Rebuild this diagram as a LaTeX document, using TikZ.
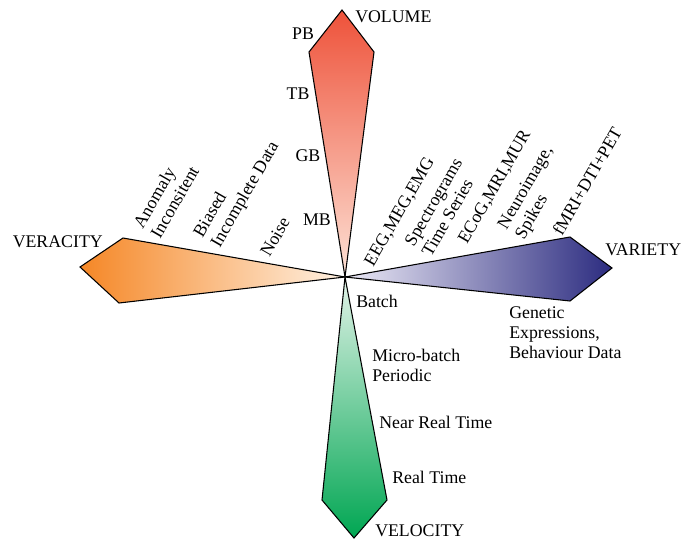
\documentclass[tikz,border=0pt]{standalone}
\usepackage{fontspec}
\setmainfont{Liberation Serif}
\begin{document}
\begin{tikzpicture}[x=0.75pt,y=-0.75pt,
  lbl/.style={inner sep=0pt,font=\fontsize{13.35}{15}\selectfont},
  rlbl/.style={lbl,rotate=60,align=left},
  blade/.style={draw=black,line width=0.8pt,line join=miter}]
\useasboundingbox (0,0) rectangle (689,539);
\definecolor{volTop}{RGB}{238,82,58}
\definecolor{volBot}{RGB}{253,226,214}
\definecolor{varIn}{RGB}{236,234,246}
\definecolor{varOut}{RGB}{44,44,128}
\definecolor{verOut}{RGB}{245,135,38}
\definecolor{verIn}{RGB}{255,242,228}
\definecolor{velIn}{RGB}{226,243,232}
\definecolor{velOut}{RGB}{0,166,82}

\coordinate (c) at (345,277);

% VOLUME blade (up)
\shade[top color=volTop,bottom color=volBot]
  (c) -- (309,52) -- (342,10) -- (374,52) -- cycle;
\draw[blade] (c) -- (309,52) -- (342,10) -- (374,52) -- cycle;

% VELOCITY blade (down)
\shade[top color=velIn,bottom color=velOut]
  (c) -- (387,500) -- (354,538) -- (322,500) -- cycle;
\draw[blade] (c) -- (387,500) -- (354,538) -- (322,500) -- cycle;

% VARIETY blade (right)
\shade[left color=varIn,right color=varOut]
  (c) -- (570,237) -- (612,268) -- (570,301) -- cycle;
\draw[blade] (c) -- (570,237) -- (612,268) -- (570,301) -- cycle;

% VERACITY blade (left)
\shade[left color=verOut,right color=verIn]
  (c) -- (123,238) -- (80,267) -- (119,303) -- cycle;
\draw[blade] (c) -- (123,238) -- (80,267) -- (119,303) -- cycle;

% axis titles
\node[lbl,anchor=west] (volume) at (355,17) {VOLUME};
\node[lbl,anchor=west] (variety) at (605,250) {VARIETY};
\node[lbl,anchor=east] (veracity) at (103,242) {VERACITY};
\node[lbl,anchor=west] (velocity) at (375,531) {VELOCITY};

% volume scale
\node[lbl] (pb) at (303,34) {PB};
\node[lbl] (tb) at (298,94) {TB};
\node[lbl] (gb) at (308,156) {GB};
\node[lbl] (mb) at (317,220) {MB};

% velocity scale
\node[lbl,anchor=west] (batch) at (356,301) {Batch};
\node[lbl,anchor=west,align=left] (micro) at (372,365) {Micro-batch\\Periodic};
\node[lbl,anchor=west] (nrt) at (379,422) {Near Real Time};
\node[lbl,anchor=west] (rt) at (392,477) {Real Time};

% variety items
\node[rlbl] (eeg) at (400,212) {EEG,MEG,EMG};
\node[rlbl] (spec) at (442,207) {Spectrograms\\Time Series};
\node[rlbl] (ecog) at (495,187) {ECoG,MRI,MUR};
\node[rlbl] (neuro) at (535,193) {Neuroimage,\\Spikes};
\node[rlbl] (fmri) at (587,181) {fMRI+DTI+PET};
\node[lbl,anchor=west,align=left] (genetic) at (509,333) {Genetic\\Expressions,\\Behaviour Data};

% veracity items
\node[rlbl] (anomaly) at (166,197) {Anomaly\\Inconsitent};
\node[rlbl] (biased) at (237,190) {Biased\\Incomplete Data};
\node[rlbl] (noise) at (275,237) {Noise};
\end{tikzpicture}
\end{document}
